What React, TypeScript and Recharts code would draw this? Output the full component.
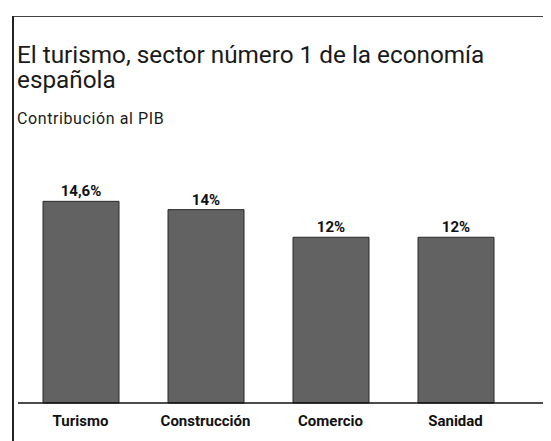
import React from "react";
import { BarChart, Bar, XAxis, YAxis, LabelList } from "recharts";

const categories = ["Turismo", "Construcción", "Comercio", "Sanidad"];
const values = [14.6, 14, 12, 12];
const title = "El turismo, sector número 1 de la economía española";
const subtitle = "Contribución al PIB";

const data = categories.map((name, i) => ({ name, value: values[i] }));
const fmt = (v: number) => String(v).replace(".", ",") + "%";

export default function App() {
  return (
    <div style={{ position: "relative", width: 543, height: 433, fontFamily: "Roboto, sans-serif", background: "#fff" }}>
      <div style={{ position: "absolute", left: 4, top: 8, width: 539, height: 1, background: "#444" }} />
      <div style={{ position: "absolute", left: 4, top: 8, width: 2, height: 425, background: "#222" }} />
      <div style={{ position: "absolute", left: 9, top: 34, width: 525, fontSize: 24.3, lineHeight: "25px", color: "#1a1a1a" }}>
        {title}
      </div>
      <div style={{ position: "absolute", left: 9, top: 101, fontSize: 16, letterSpacing: 0.6, color: "#1a1a1a" }}>{subtitle}</div>
      <div style={{ position: "absolute", left: 0, top: 0 }}>
        <BarChart width={543} height={433} data={data} margin={{ top: 174, right: 0, left: 10, bottom: 8 }}>
          <YAxis hide domain={[0, 16]} />
          <XAxis
            dataKey="name"
            height={30}
            padding={{ left: 0, right: 33 }}
            tickLine={false}
            tickMargin={6}
            axisLine={{ stroke: "#111", strokeWidth: 1.5 }}
            tick={{ fill: "#111", fontSize: 15, fontWeight: 700, fontFamily: "Roboto, sans-serif" }}
            interval={0}
          />
          <Bar dataKey="value" barSize={76} fill="#626262" stroke="#2a2a2a" strokeWidth={1} isAnimationActive={false}>
            <LabelList
              dataKey="value"
              position="top"
              offset={5}
              formatter={(v: any) => fmt(Number(v))}
              style={{ fill: "#111", fontSize: 15, fontWeight: 700, fontFamily: "Roboto, sans-serif" }}
            />
          </Bar>
        </BarChart>
      </div>
    </div>
  );
}
